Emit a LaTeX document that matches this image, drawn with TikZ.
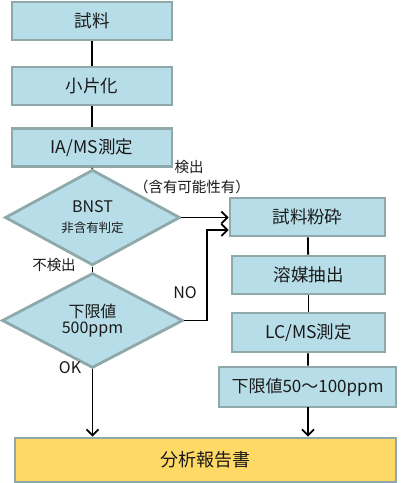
\documentclass[tikz,border=0pt]{standalone}
\usepackage{fontspec}
\setmainfont{Noto Sans CJK JP}
\usetikzlibrary{shapes.geometric,arrows.meta}
\definecolor{boxfill}{HTML}{B7DEE8}
\definecolor{boxline}{HTML}{8FA9AA}
\definecolor{repfill}{HTML}{FFD966}
\definecolor{txt}{HTML}{1A1A1A}
\tikzset{
  stepbox/.style={draw=boxline, line width=2.8pt, fill=boxfill, text=txt, inner sep=0pt, font=\fontsize{17.5}{20}\selectfont},
  decision/.style={diamond, draw=boxline, line width=2.8pt, fill=boxfill, text=txt, inner sep=0pt, align=center},
  conn/.style={draw=black, line width=1.8pt},
  arr/.style={conn, -{Straight Barb[length=6pt,width=12pt,line width=1.8pt]}},
  lbl/.style={text=txt, font=\fontsize{14.5}{17}\selectfont, inner sep=0pt}
}
\begin{document}
\begin{tikzpicture}[x=1pt,y=-1pt]
\useasboundingbox (0,0) rectangle (400,483);
% left column
\node[stepbox, minimum width=160pt, minimum height=38pt] (s1) at (92,21) {試料};
\node[stepbox, minimum width=160pt, minimum height=38pt] (s2) at (92,86) {小片化};
\node[stepbox, minimum width=160pt, minimum height=38pt] (s3) at (92,147.5) {IA/MS測定};
\node[decision, minimum width=175pt, minimum height=75pt, font=\fontsize{12.5}{20}\selectfont] (d1) at (92.5,217.5)
  {{\fontsize{16}{18}\selectfont BNST}\\非含有判定};
\node[decision, minimum width=181pt, minimum height=75pt, font=\fontsize{16}{16.5}\selectfont] (d2) at (92.5,320.5)
  {下限値\\500ppm};
% right column
\node[stepbox, minimum width=155pt, minimum height=38pt] (r1) at (307.5,217) {試料粉砕};
\node[stepbox, minimum width=153pt, minimum height=38pt] (r2) at (308.5,275) {溶媒抽出};
\node[stepbox, minimum width=153pt, minimum height=39pt] (r3) at (308.5,332.5) {LC/MS測定};
\node[stepbox, minimum width=177pt, minimum height=40pt, font=\fontsize{17}{19}\selectfont] (r4) at (307.5,387) {下限値50～100ppm};
% report
\node[stepbox, fill=repfill, minimum width=381pt, minimum height=44pt, font=\fontsize{18}{20}\selectfont] (rep) at (205.5,460) {分析報告書};
% connectors
\draw[conn] (s1) -- (s2);
\draw[conn] (s2) -- (s3);
\draw[conn] (s3) -- (d1);
\draw[conn] (d1) -- (d2);
\draw[arr] (d2.south) -- (d2.south |- rep.north);
\draw[arr] (d1.east) -- (r1.west |- d1.east);
\coordinate (nojoin) at (207,230);
\draw[arr] (d2.east) -| (nojoin) -- (r1.west |- nojoin);
\draw[conn] (r1) -- (r2);
\draw[conn] (r2) -- (r3);
\draw[conn] (r3) -- (r4);
\coordinate (r4s) at (308,407);
\draw[arr] (r4s) -- (r4s |- rep.north);
% labels
\node[lbl] (l1) at (189,167) {検出};
\node[lbl] (l2) at (192,187) {（含有可能性有）};
\node[lbl] (l3) at (54,265) {不検出};
\node[lbl, font=\fontsize{16}{18}\selectfont] (l4) at (185,293) {NO};
\node[lbl, font=\fontsize{16}{18}\selectfont] (l5) at (70,368) {OK};
\end{tikzpicture}
\end{document}
